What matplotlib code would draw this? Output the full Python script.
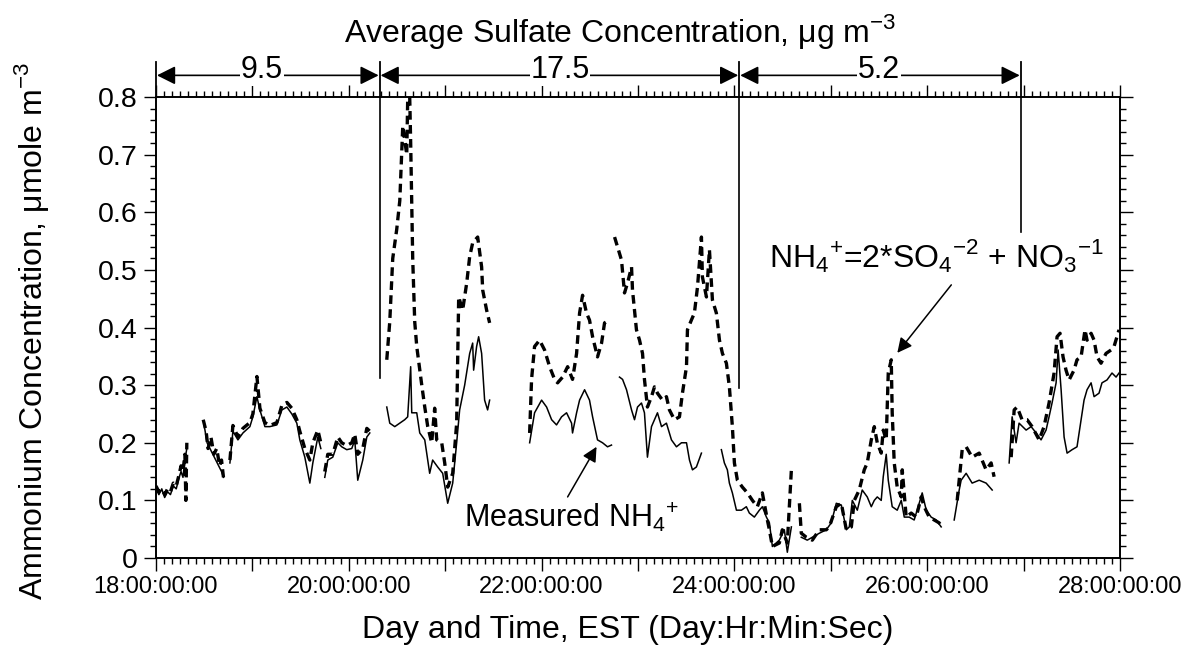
import numpy as np
import matplotlib
matplotlib.use('Agg')
import matplotlib.pyplot as plt
from matplotlib.ticker import MultipleLocator, FuncFormatter

plt.rcParams['font.family'] = ['Liberation Sans', 'DejaVu Sans']
nan = np.nan

# measured NH4+ (solid line), day of month vs umole m-3, nan = gap
meas_day = [18.00, 18.03, 18.06, 18.09, 18.12, 18.15, 18.18, 18.21, 18.24, 18.26, 18.28, 18.30, 18.32, nan,
            18.50, 18.53, 18.56, 18.59, 18.62, 18.65, 18.68, 18.70, nan,
            18.767, 18.798, 18.85, 18.902, 18.974, 19.005, 19.047, 19.078, 19.13, 19.181, 19.254,
            19.306, 19.358, 19.409, 19.461, 19.492, 19.544, 19.596, 19.627, 19.679, 19.71, nan,
            19.751, 19.782, 19.834, 19.886, 19.927, 19.979, 20.031, 20.062, 20.093, 20.145, 20.187, 20.218, nan,
            20.394, 20.425, 20.477, 20.529, 20.58, 20.611, 20.642, 20.653, 20.705, 20.736, 20.788, 20.839,
            20.87, 20.922, 20.974, 21.026, 21.078, 21.119, 21.15, 21.202, 21.254, 21.285, 21.295, 21.326,
            21.347, 21.378, 21.409, 21.44, 21.461, nan,
            21.876, 21.927, 22.0, 22.052, 22.104, 22.155, 22.207, 22.259, 22.311, 22.321, 22.363, 22.394,
            22.446, 22.497, 22.529, 22.58, 22.632, 22.684, 22.725, nan,
            22.808, 22.84, 22.881, 22.933, 22.964, 22.995, 23.036, 23.067, 23.098, 23.14, 23.171, 23.202,
            23.244, 23.295, 23.347, 23.399, 23.451, 23.503, 23.534, 23.565, 23.606, 23.658, nan,
            23.865, 23.896, 23.927, 23.948, 23.979, 24.021, 24.073, 24.124, 24.155, 24.207, 24.259, 24.29,
            24.332, 24.363, 24.394, 24.466, 24.518, 24.549, 24.591, nan,
            24.694, 24.756, 24.808, 24.881, 24.953, 25.005, 25.057, 25.109, 25.161, 25.192, 25.223, 25.275,
            25.326, 25.378, 25.42, 25.451, 25.482, 25.523, 25.544, 25.575, 25.596, 25.637, 25.689, 25.731,
            25.762, 25.813, 25.865, 25.917, 25.948, 25.99, 26.041, 26.093, 26.145, nan,
            26.28, 26.332, 26.352, 26.404, 26.466, 26.539, 26.611, 26.674, nan,
            26.85, 26.881, 26.922, 26.953, 27.026, 27.078, 27.13, 27.181, 27.233, 27.264, 27.295, 27.337,
            27.358, 27.389, 27.42, 27.451, 27.503, 27.554, 27.596, 27.627, 27.658, 27.7, 27.731, 27.782,
            27.813, 27.865, 27.917, 27.959, 27.99]
meas_val = [0.12, 0.11, 0.12, 0.105, 0.115, 0.11, 0.125, 0.12, 0.14, 0.15, 0.14, 0.17, 0.19, nan,
            0.23, 0.20, 0.19, 0.18, 0.17, 0.16, 0.15, 0.14, nan,
            0.165, 0.22, 0.205, 0.217, 0.228, 0.245, 0.28, 0.257, 0.228, 0.228, 0.231,
            0.257, 0.262, 0.25, 0.234, 0.205, 0.175, 0.13, 0.165, 0.21, 0.19, nan,
            0.14, 0.17, 0.175, 0.2, 0.193, 0.188, 0.19, 0.205, 0.135, 0.17, 0.21, 0.217, nan,
            0.262, 0.234, 0.228, 0.234, 0.24, 0.245, 0.332, 0.252, 0.252, 0.217, 0.205, 0.147,
            0.17, 0.158, 0.147, 0.095, 0.13, 0.2, 0.257, 0.30, 0.355, 0.373, 0.326, 0.367,
            0.384, 0.355, 0.274, 0.257, 0.274, nan,
            0.2, 0.252, 0.274, 0.262, 0.24, 0.231, 0.245, 0.252, 0.234, 0.217, 0.252, 0.274,
            0.292, 0.274, 0.245, 0.205, 0.2, 0.193, 0.196, nan,
            0.314, 0.31, 0.292, 0.257, 0.24, 0.262, 0.269, 0.252, 0.175, 0.228, 0.24, 0.252,
            0.228, 0.234, 0.205, 0.193, 0.2, 0.2, 0.17, 0.153, 0.158, 0.182, nan,
            0.188, 0.165, 0.153, 0.13, 0.113, 0.083, 0.083, 0.089, 0.078, 0.071, 0.083, 0.089,
            0.071, 0.061, 0.02, 0.031, 0.049, 0.01, 0.054, nan,
            0.036, 0.031, 0.036, 0.043, 0.049, 0.061, 0.095, 0.092, 0.049, 0.054, 0.10, 0.083,
            0.118, 0.106, 0.089, 0.10, 0.106, 0.10, 0.141, 0.18, 0.135, 0.089, 0.083, 0.10,
            0.071, 0.071, 0.066, 0.095, 0.113, 0.083, 0.071, 0.066, 0.054, nan,
            0.066, 0.118, 0.135, 0.147, 0.13, 0.135, 0.13, 0.118, nan,
            0.165, 0.245, 0.2, 0.234, 0.222, 0.228, 0.217, 0.205, 0.222, 0.245, 0.269, 0.304,
            0.361, 0.292, 0.21, 0.182, 0.188, 0.193, 0.24, 0.274, 0.292, 0.304, 0.28, 0.286,
            0.304, 0.309, 0.321, 0.314, 0.321]

# NH4+ = 2*SO4 + NO3 (dashed line)
calc_day = [18.00, 18.03, 18.06, 18.09, 18.12, 18.15, 18.18, 18.21, 18.24, 18.26, 18.28, 18.30, 18.31, 18.32, nan,
            18.49, 18.52, 18.54, 18.57, 18.60, 18.63, 18.66, 18.68, 18.70, nan,
            18.767, 18.798, 18.85, 18.902, 18.974, 19.005, 19.047, 19.078, 19.13, 19.181, 19.254,
            19.306, 19.358, 19.409, 19.461, 19.492, 19.544, 19.596, 19.627, 19.679, 19.71, nan,
            19.751, 19.782, 19.834, 19.886, 19.927, 19.979, 20.031, 20.062, 20.093, 20.145, 20.187, 20.218, nan,
            20.394, 20.425, 20.456, 20.497, 20.529, 20.56, 20.601, 20.611, 20.632, 20.642, 20.663, 20.684,
            20.705, 20.757, 20.788, 20.819, 20.86, 20.891, 20.912, 20.964, 20.995, 21.026, 21.078, 21.119,
            21.13, 21.14, 21.181, 21.223, 21.254, 21.285, 21.337, 21.378, 21.389, 21.43, 21.461, nan,
            21.876, 21.896, 21.927, 21.979, 22.031, 22.083, 22.135, 22.166, 22.218, 22.27, 22.321, 22.363,
            22.394, 22.425, 22.466, 22.497, 22.529, 22.58, 22.622, 22.653, 22.705, nan,
            22.757, 22.788, 22.829, 22.86, 22.891, 22.933, 22.943, 22.984, 23.016, 23.047, 23.067, 23.098,
            23.14, 23.171, 23.202, 23.254, 23.295, 23.326, 23.378, 23.43, 23.461, 23.503, 23.513, 23.554,
            23.585, 23.617, 23.658, 23.668, 23.71, 23.741, 23.772, 23.813, 23.845, 23.876, 23.917, 23.948,
            23.979, 24.0, 24.031, 24.083, 24.135, 24.187, 24.238, 24.29, 24.342, 24.363, 24.394, 24.466,
            24.497, 24.549, 24.591, nan,
            24.674, 24.694, 24.746, 24.808, 24.881, 24.953, 24.984, 25.057, 25.109, 25.161, 25.213, 25.244,
            25.295, 25.347, 25.378, 25.42, 25.451, 25.482, 25.523, 25.544, 25.575, 25.596, 25.627, 25.637,
            25.658, 25.689, 25.731, 25.741, 25.782, 25.834, 25.886, 25.938, 25.969, 26.021, 26.073, 26.124,
            26.155, nan,
            26.311, 26.363, 26.404, 26.466, 26.539, 26.611, 26.663, 26.694, nan,
            26.871, 26.902, 26.933, 26.984, 27.036, 27.088, 27.161, 27.212, 27.264, 27.316, 27.347, 27.378,
            27.409, 27.44, 27.472, 27.523, 27.554, 27.596, 27.637, 27.658, 27.7, 27.731, 27.762, 27.803,
            27.855, 27.907, 27.938, 27.99]
calc_val = [0.125, 0.115, 0.12, 0.11, 0.12, 0.115, 0.13, 0.125, 0.145, 0.16, 0.15, 0.18, 0.10, 0.20, nan,
            0.24, 0.22, 0.19, 0.21, 0.18, 0.19, 0.16, 0.17, 0.14, nan,
            0.17, 0.23, 0.21, 0.225, 0.235, 0.25, 0.315, 0.26, 0.235, 0.23, 0.235,
            0.265, 0.27, 0.26, 0.24, 0.22, 0.19, 0.17, 0.2, 0.222, 0.2, nan,
            0.15, 0.18, 0.18, 0.21, 0.2, 0.195, 0.2, 0.215, 0.18, 0.19, 0.225, 0.22, nan,
            0.344, 0.41, 0.52, 0.57, 0.62, 0.75, 0.70, 0.795, 0.80, 0.72, 0.52, 0.41,
            0.367, 0.30, 0.262, 0.228, 0.20, 0.26, 0.205, 0.20, 0.165, 0.123, 0.147, 0.234,
            0.35, 0.453, 0.43, 0.477, 0.523, 0.547, 0.557, 0.505, 0.465, 0.43, 0.408, nan,
            0.217, 0.31, 0.367, 0.378, 0.361, 0.332, 0.31, 0.304, 0.314, 0.332, 0.31, 0.355,
            0.425, 0.456, 0.425, 0.413, 0.384, 0.349, 0.373, 0.408, 0.413, nan,
            0.557, 0.54, 0.517, 0.46, 0.477, 0.505, 0.465, 0.396, 0.378, 0.355, 0.31, 0.262,
            0.28, 0.297, 0.286, 0.274, 0.28, 0.257, 0.24, 0.245, 0.286, 0.332, 0.396, 0.413,
            0.425, 0.47, 0.557, 0.488, 0.453, 0.535, 0.448, 0.425, 0.378, 0.355, 0.338, 0.297,
            0.228, 0.165, 0.135, 0.123, 0.113, 0.10, 0.089, 0.113, 0.066, 0.049, 0.02, 0.026,
            0.049, 0.026, 0.153, nan,
            0.095, 0.043, 0.036, 0.031, 0.049, 0.049, 0.054, 0.089, 0.095, 0.049, 0.054, 0.10,
            0.118, 0.153, 0.165, 0.205, 0.228, 0.2, 0.182, 0.222, 0.205, 0.321, 0.344, 0.252,
            0.165, 0.123, 0.106, 0.153, 0.071, 0.078, 0.071, 0.106, 0.089, 0.071, 0.066, 0.061,
            0.054, nan,
            0.10, 0.188, 0.193, 0.175, 0.182, 0.153, 0.165, 0.141, nan,
            0.175, 0.257, 0.262, 0.24, 0.24, 0.228, 0.205, 0.228, 0.269, 0.321, 0.384, 0.39,
            0.349, 0.326, 0.309, 0.326, 0.344, 0.349, 0.396, 0.378, 0.39, 0.378, 0.349, 0.338,
            0.355, 0.361, 0.367, 0.396]

# sulfate averaging periods (day boundaries) and their mean concentrations
period_edges = [18.0, 20.32, 24.05, 26.97]
period_sulfate = ['9.5', '17.5', '5.2']
period_label_x = [19.10, 22.19, 25.50]
edge_bottom = [None, 0.313, 0.295, 0.566]

fig = plt.figure(figsize=(11.98, 6.49), dpi=100)
ax = fig.add_axes([0.1302, 0.1402, 0.8047, 0.7103])

ax.plot(meas_day, meas_val, color='black', lw=1.1)
ax.plot(calc_day, calc_val, color='black', lw=2.4, linestyle=(0, (2.6, 1.6)))

ax.set_xlim(18, 28)
ax.set_ylim(0, 0.8)

ax.xaxis.set_major_locator(MultipleLocator(1))
ax.xaxis.set_minor_locator(MultipleLocator(1 / 12))
ax.xaxis.set_major_formatter(FuncFormatter(
    lambda v, p: '%d:00:00:00' % round(v) if round(v) % 2 == 0 else ''))
ax.yaxis.set_major_locator(MultipleLocator(0.1))
ax.yaxis.set_minor_locator(MultipleLocator(0.02))
ax.yaxis.set_major_formatter(FuncFormatter(lambda v, p: '0' if abs(v) < 1e-9 else '%.1f' % v))

ax.tick_params(which='both', direction='out', top=True, right=True, width=1)
ax.tick_params(which='major', length=9)
ax.tick_params(which='minor', length=4)
ax.tick_params(axis='x', labelsize=17, pad=4)
ax.tick_params(axis='y', labelsize=20.5, pad=4)
for s in ax.spines.values():
    s.set_linewidth(1.4)

# vertical period boundaries and arrows above the plot
trans = ax.get_xaxis_transform()
for x, yb in zip(period_edges, edge_bottom):
    ax.plot([x, x], [1.0, 1.075], transform=trans, color='black', lw=1.3, clip_on=False)
    if yb is not None:
        ax.plot([x, x], [yb, 0.8], color='black', lw=1.2)

for i, lab in enumerate(period_sulfate):
    ax.annotate('', xy=(period_edges[i] + 0.01, 1.047), xytext=(period_edges[i + 1] - 0.01, 1.047),
                xycoords=trans, textcoords=trans,
                arrowprops=dict(arrowstyle='<|-|>', color='black', lw=1.2, mutation_scale=28,
                                shrinkA=0, shrinkB=0))
    ax.text(period_label_x[i], 1.041, lab, transform=trans, ha='center', va='baseline',
            fontsize=22, bbox=dict(facecolor='white', edgecolor='none', pad=0.5))

fig.text(0.518, 0.952, 'Average Sulfate Concentration, μg m$^{\\mathregular{-3}}$',
         ha='center', va='center', fontsize=23)

ax.text(21.19, 0.071, 'Measured NH$_{\\mathregular{4}}$$^{\\mathregular{+}}$',
        fontsize=22, va='center', ha='left')
ax.annotate('', xy=(22.57, 0.193), xytext=(22.27, 0.106),
            arrowprops=dict(arrowstyle='-|>', color='black', lw=1.1, mutation_scale=22,
                            shrinkA=0, shrinkB=0))
ax.annotate('', xy=(25.69, 0.356), xytext=(26.25, 0.474),
            arrowprops=dict(arrowstyle='-|>', color='black', lw=1.1, mutation_scale=22,
                            shrinkA=0, shrinkB=0))
ax.text(24.36, 0.523,
        'NH$_{\\mathregular{4}}$$^{\\mathregular{+}}$=2*SO$_{\\mathregular{4}}$$^{\\mathregular{-2}}$'
        ' + NO$_{\\mathregular{3}}$$^{\\mathregular{-1}}$',
        fontsize=23, ha='left', va='center')

fig.text(0.524, 0.030, 'Day and Time, EST (Day:Hr:Min:Sec)', ha='center', va='center', fontsize=23)
fig.text(0.026, 0.49, 'Ammonium Concentration, μmole m$^{\\mathregular{-3}}$', ha='center', va='center',
         rotation=90, fontsize=23)

fig.savefig('out.png', dpi=100)
